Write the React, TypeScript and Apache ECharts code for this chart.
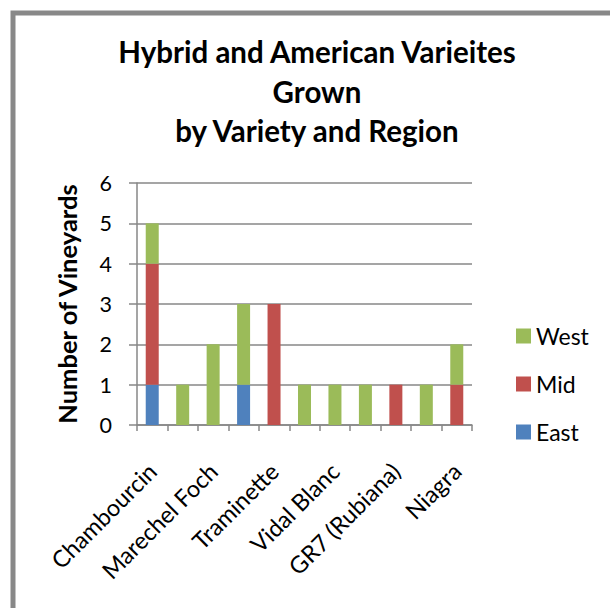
import React, { useEffect, useRef } from "react";
import * as echarts from "echarts";

// Grape varieties along the x axis (every other name is shown on the axis)
const varieties = [
  "Chambourcin",
  "Chardonel",
  "Marechel Foch",
  "Seyval Blanc",
  "Traminette",
  "Vignoles",
  "Vidal Blanc",
  "Cayuga White",
  "GR7 (Rubiana)",
  "Concord",
  "Niagra",
];

// Number of vineyards per region, stacked East -> Mid -> West
const eastCounts = [1, 0, 0, 1, 0, 0, 0, 0, 0, 0, 0];
const midCounts = [3, 0, 0, 0, 3, 0, 0, 0, 1, 0, 1];
const westCounts = [1, 1, 2, 2, 0, 1, 1, 1, 0, 1, 1];

const yTicks = { min: 0, max: 6, interval: 1 };

const FONT = "Lato, 'Open Sans', sans-serif";
const GRID_GRAY = "#878787";

export default function App() {
  const ref = useRef<HTMLDivElement>(null);

  useEffect(() => {
    if (!ref.current) return;
    const chart = echarts.init(ref.current, undefined, { renderer: "svg" });

    const bar = (name: string, data: number[], color: string) => ({
      name,
      type: "bar",
      stack: "vineyards",
      data,
      barWidth: 13,
      itemStyle: { color },
    });

    chart.setOption({
      animation: false,
      backgroundColor: "#ffffff",
      title: {
        text: "Hybrid and American Varieites\nGrown\nby Variety and Region",
        left: 312,
        top: 27,
        textAlign: "center",
        textStyle: {
          fontFamily: FONT,
          fontSize: 29.5,
          fontWeight: "bold",
          color: "#000",
          lineHeight: 39.5,
        },
      },
      legend: {
        orient: "vertical",
        left: 511,
        top: 319,
        itemWidth: 15,
        itemHeight: 15,
        itemGap: 24,
        icon: "rect",
        data: ["West", "Mid", "East"],
        textStyle: {
          fontFamily: FONT,
          fontSize: 23,
          color: "#000",
          lineHeight: 24,
        },
      },
      grid: { left: 137, right: 138, top: 183, bottom: 183 },
      xAxis: {
        type: "category",
        data: varieties,
        boundaryGap: true,
        axisLine: { show: true, lineStyle: { color: GRID_GRAY, width: 1.5 } },
        axisTick: {
          show: true,
          interval: 0,
          length: 6,
          lineStyle: { color: GRID_GRAY, width: 1.5 },
        },
        axisLabel: {
          interval: 1,
          rotate: 45,
          margin: 42,
          fontFamily: FONT,
          fontSize: 23.5,
          color: "#000",
        },
      },
      yAxis: {
        type: "value",
        ...yTicks,
        name: "Number of Vineyards",
        nameLocation: "middle",
        nameGap: 57,
        nameTextStyle: {
          fontFamily: FONT,
          fontSize: 25.5,
          fontWeight: "bold",
          color: "#000",
        },
        axisLine: { show: true, lineStyle: { color: GRID_GRAY, width: 1.5 } },
        axisTick: {
          show: true,
          length: 8,
          lineStyle: { color: GRID_GRAY, width: 1.5 },
        },
        splitLine: { show: true, lineStyle: { color: GRID_GRAY, width: 1.5 } },
        axisLabel: {
          margin: 25,
          fontFamily: FONT,
          fontSize: 21.5,
          color: "#000",
        },
      },
      graphic: [
        {
          type: "polyline",
          shape: { points: [[13, 608], [13, 13], [610, 13]] },
          style: { stroke: "#888888", lineWidth: 5, fill: "none" },
          silent: true,
        },
      ],
      series: [
        bar("East", eastCounts, "#4F81BD"),
        bar("Mid", midCounts, "#C0504D"),
        bar("West", westCounts, "#9BBB59"),
      ],
    });

    return () => chart.dispose();
  }, []);

  return (
    <div
      ref={ref}
      style={{ position: "fixed", left: 0, top: 0, width: 610, height: 608, background: "#fff" }}
    />
  );
}
